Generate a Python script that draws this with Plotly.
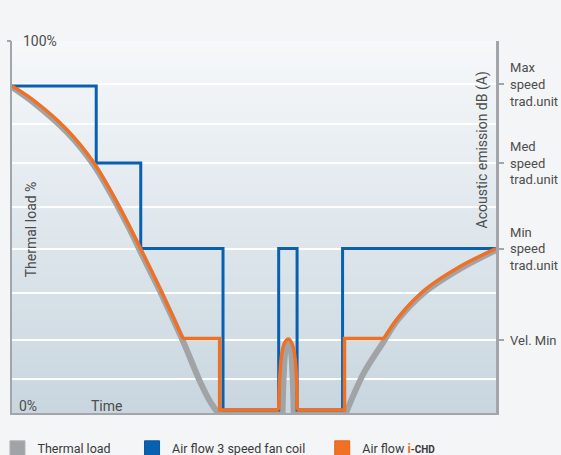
import base64
import struct
import zlib

import plotly.graph_objects as go

# ---------------- data ----------------
# Thermal load (grey) – time in % of the period, load in % of the axis
thermal_left_t = [0, 4.4, 11.4, 16.8, 20.3, 23.9, 27.2, 30.7, 35.5, 39.0, 41.2, 42.6]
thermal_left_v = [87.6, 83.5, 75.4, 66.8, 59.2, 50.4, 41.6, 32.4, 18.8, 8.0, 2.5, 0.0]
thermal_flat1_t = [42.6, 55.9]
thermal_flat1_v = [0.0, 0.0]
thermal_spike_t = [55.9, 56.1, 56.5, 57.0, 57.6, 58.0, 58.2]
thermal_spike_v = [0.0, 8.9, 16.9, 19.4, 16.9, 8.9, 0.0]
thermal_flat2_t = [58.2, 69.0]
thermal_flat2_v = [0.0, 0.0]
thermal_right_t = [69.0, 72.7, 76.6, 79.7, 85.1, 92.1, 100]
thermal_right_v = [0.0, 10.8, 18.8, 25.0, 32.3, 38.4, 43.8]

# Air flow, 3 speed fan coil (blue step line)
fancoil_t = [0, 17.4, 17.4, 26.6, 26.6, 43.6, 43.6, 55.1, 55.1, 58.9, 58.9, 68.3, 68.3, 100]
fancoil_v = [87.9, 87.9, 67.2, 67.2, 44.2, 44.2, 0.8, 0.8, 44.2, 44.2, 0.8, 0.8, 44.2, 44.2]

# Air flow i-CHD (orange)
ichd_left_t = [0, 4.4, 11.4, 16.8, 20.3, 23.9, 27.2, 30.7, 35.3]
ichd_left_v = [87.9, 84.1, 76.1, 67.5, 59.9, 51.1, 42.5, 33.1, 20.0]
ichd_step1_t = [35.3, 42.9, 42.9, 55.1]
ichd_step1_v = [20.0, 20.0, 0.8, 0.8]
ichd_spike_t = [55.1, 55.3, 55.7, 56.3, 57.1, 57.8, 58.4, 58.8, 58.9]
ichd_spike_v = [0.8, 8.9, 15.6, 18.8, 19.9, 18.8, 15.6, 8.9, 0.8]
ichd_step2_t = [58.9, 68.7, 68.7, 76.8]
ichd_step2_v = [0.8, 0.8, 20.0, 20.0]
ichd_right_t = [76.8, 79.9, 85.3, 92.3, 100]
ichd_right_v = [20.0, 25.8, 33.1, 39.2, 44.2]

# grid lines and right-hand (acoustic) tick labels
grid_vals = [9.1, 19.6, 32.3, 44.1, 55.4, 67.2, 77.7, 88.4]
speed_vals = [88.4, 67.2, 44.1, 19.6]
speed_labels = ["Max<br>speed<br>trad.unit", "Med<br>speed<br>trad.unit",
                "Min<br>speed<br>trad.unit", "Vel. Min"]

legend_names = ["Thermal load", "Air flow 3 speed fan coil",
                "Air flow <span style='color:#f07024'><b>i</b></span>"
                "<span style='font-size:10px'><b>-CHD</b></span>"]

# ---------------- styles ----------------
GREY = "#a1a4a7"
BLUE = "#0a60b0"
ORANGE = "#f07024"
AXIS = "#a2a6aa"
TXT = "#4d4d4d"
FONT = "Roboto"
PAGE = "#f4f5f7"


def gradient_png(top, bottom, n=128):
    rows = []
    for i in range(n):
        f = i / (n - 1)
        rows.append(bytes(int(round(top[k] + (bottom[k] - top[k]) * f)) for k in range(3)))
    raw = b"".join(b"\x00" + r for r in rows)

    def chunk(tag, data):
        return (struct.pack(">I", len(data)) + tag + data +
                struct.pack(">I", zlib.crc32(tag + data) & 0xFFFFFFFF))

    ihdr = struct.pack(">IIBBBBB", 1, n, 8, 2, 0, 0, 0)
    png = (b"\x89PNG\r\n\x1a\n" + chunk(b"IHDR", ihdr) +
           chunk(b"IDAT", zlib.compress(raw)) + chunk(b"IEND", b""))
    return "data:image/png;base64," + base64.b64encode(png).decode()


fig = go.Figure()


def line(t, v, color, width, shape="linear"):
    fig.add_trace(go.Scatter(x=t, y=v, mode="lines", showlegend=False,
                             line=dict(color=color, width=width, shape=shape),
                             hoverinfo="skip"))


# thermal load
line(thermal_left_t, thermal_left_v, GREY, 6, "spline")
line(thermal_flat1_t, thermal_flat1_v, GREY, 6)
line(thermal_spike_t, thermal_spike_v, GREY, 6, "spline")
line(thermal_flat2_t, thermal_flat2_v, GREY, 6)
line(thermal_right_t, thermal_right_v, GREY, 6, "spline")
# fan coil
line(fancoil_t, fancoil_v, BLUE, 3)
# i-CHD
line(ichd_left_t, ichd_left_v, ORANGE, 3.5, "spline")
line(ichd_step1_t, ichd_step1_v, ORANGE, 3.5)
line(ichd_spike_t, ichd_spike_v, ORANGE, 3.5, "spline")
line(ichd_step2_t, ichd_step2_v, ORANGE, 3.5)
line(ichd_right_t, ichd_right_v, ORANGE, 3.5, "spline")

# legend entries (squares)
for name, col, edge, lg in zip(legend_names, [GREY, BLUE, ORANGE],
                                ["#b0b0b0", "#0a55a0", "#e0651c"],
                                ["legend", "legend2", "legend3"]):
    fig.add_trace(go.Scatter(x=[None], y=[None], mode="markers", name=name,
                             legend=lg,
                             marker=dict(symbol="square", size=15, color=col,
                                         line=dict(width=1, color=edge))))

# dummy traces so the extra axes are drawn
fig.add_trace(go.Scatter(x=[None], y=[None], yaxis="y2", showlegend=False))
fig.add_trace(go.Scatter(x=[None], y=[None], yaxis="y3", showlegend=False))

ann_font = dict(family=FONT, size=14, color=TXT)
annotations = [
    dict(x=1.8, y=100, text="100%", xanchor="left", yanchor="middle"),
    dict(x=1.0, y=2.0, text="0%", xanchor="left", yanchor="middle"),
    dict(x=16.0, y=2.0, text="Time", xanchor="left", yanchor="middle"),
    dict(x=3.8, y=49.5, text="Thermal load %", textangle=-90,
         xanchor="center", yanchor="middle"),
    dict(x=97.2, y=70.7, text="Acoustic emission dB (A)", textangle=-90,
         xanchor="center", yanchor="middle"),
]
for a in annotations:
    a.update(xref="x", yref="y", showarrow=False, font=ann_font)

legend_common = dict(orientation="h", yanchor="middle", y=-0.096,
                     xanchor="left", bgcolor="rgba(0,0,0,0)",
                     font=dict(family=FONT, size=12.5, color="#3a3a3a"))

fig.update_layout(
    width=561, height=455,
    margin=dict(l=12, r=65, t=41, b=42, autoexpand=False),
    paper_bgcolor=PAGE,
    plot_bgcolor="#dfe6eb",
    font=dict(family=FONT, size=13, color=TXT),
    hovermode=False,
    annotations=annotations,
    images=[dict(source=gradient_png((246, 248, 250), (201, 214, 223)),
                 xref="x", yref="y", x=0, y=100, sizex=100, sizey=100,
                 xanchor="left", yanchor="top", sizing="stretch",
                 layer="below")],
    xaxis=dict(range=[0, 100], showgrid=False, zeroline=False, ticks="",
               showticklabels=False, showline=True, linecolor=AXIS, linewidth=2,
               automargin=False),
    yaxis=dict(range=[0, 100], tickvals=grid_vals, showgrid=True,
               gridcolor="rgba(255,255,255,0.95)", gridwidth=1.5,
               zeroline=False, ticks="", showticklabels=False,
               showline=True, linecolor=AXIS, linewidth=2, automargin=False),
    yaxis2=dict(range=[0, 100], overlaying="y", side="right",
                tickvals=speed_vals, ticktext=speed_labels, ticks="outside",
                ticklen=5, tickwidth=1.5, tickcolor=AXIS, showgrid=False,
                zeroline=False, showline=True, linecolor=AXIS, linewidth=2.5,
                ticklabelstandoff=4, automargin=False,
                tickfont=dict(family=FONT, size=13, color=TXT)),
    yaxis3=dict(range=[0, 100], overlaying="y", side="left",
                tickvals=[100], ticks="outside", ticklen=4, tickwidth=2,
                tickcolor=AXIS, showticklabels=False, showgrid=False,
                zeroline=False, showline=False, automargin=False),
    legend=dict(x=-0.03, **legend_common),
    legend2=dict(x=0.248, **legend_common),
    legend3=dict(x=0.641, **legend_common),
)

page_css = ("document.body.style.margin='0';"
            "document.body.style.background='%s';"
            "document.body.style.overflow='hidden';" % PAGE)
fig.write_html("out.html", post_script=page_css,
               config=dict(displayModeBar=False, staticPlot=True))
